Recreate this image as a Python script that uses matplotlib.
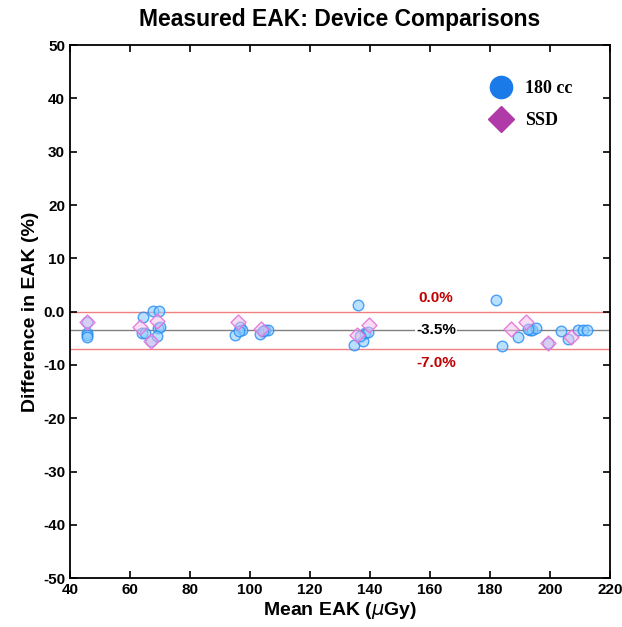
import matplotlib
matplotlib.use("Agg")
import matplotlib.pyplot as plt
from matplotlib.lines import Line2D

plt.rcParams['font.family'] = ['Liberation Sans', 'DejaVu Sans']

# 180 cc chamber readings (mean EAK, % difference)
cc_x = [45.7, 45.7, 45.8, 45.6,
        64.2, 67.8, 69.6, 63.9, 65.0, 69.4, 70.0, 66.9, 68.9,
        96.7, 97.2, 95.0, 96.3, 103.3, 105.0, 106.1, 104.4,
        135.9, 134.8, 137.6, 138.3, 139.4, 136.7,
        182.2, 184.1, 189.4, 193.3, 194.0, 195.3, 192.7, 199.4,
        203.7, 206.1, 209.4, 211.0, 212.3]
cc_y = [-4.0, -4.3, -4.8, -2.0,
        -1.1, 0.2, 0.2, -4.0, -4.0, -3.1, -2.9, -5.5, -4.6,
        -2.8, -3.4, -4.3, -3.7, -4.2, -3.4, -3.4, -3.7,
        1.3, -6.2, -5.6, -4.0, -3.8, -4.6,
        2.1, -6.4, -4.8, -3.5, -3.4, -3.1, -3.2, -5.8,
        -3.6, -5.1, -3.4, -3.4, -3.4]

# SSD readings
ssd_x = [45.6, 63.3, 68.9, 66.9, 95.9, 103.7, 139.7, 135.6, 186.9, 192.0, 199.4, 206.9]
ssd_y = [-2.0, -2.9, -1.8, -5.5, -2.0, -3.3, -2.6, -4.3, -3.3, -2.0, -5.8, -4.8]

mean_diff = -3.5
upper = 0.0
lower = -7.0

yticks = [50, 40, 30, 20, 10, 0, -10, -20, -30, -40, -50]
ytick_labels = ['50', '40', '30', '20', '10', '0.0', '-10', '-20', '-30', '-40', '-50']
xticks = list(range(40, 221, 20))

fig = plt.figure(figsize=(6.22, 6.27), dpi=100)
ax = fig.add_axes([0.1125, 0.078, 0.868, 0.850])

ax.axhline(upper, color='#f08080', lw=1.0, zorder=1)
ax.axhline(lower, color='#f08080', lw=1.0, zorder=1)
ax.axhline(mean_diff, color='#808080', lw=1.0, zorder=1)

ax.scatter(cc_x, cc_y, s=58, marker='o', facecolor=(0.55, 0.80, 1.0, 0.6),
           edgecolor=(0.15, 0.55, 0.95, 0.8), linewidth=1.0, zorder=3)
ax.scatter(ssd_x, ssd_y, s=58, marker='D', facecolor=(0.96, 0.74, 0.92, 0.5),
           edgecolor=(0.90, 0.45, 0.85, 0.9), linewidth=1.0, zorder=4)

ax.text(162, 1.2, '0.0%', color='#c00000', fontsize=11, fontweight='bold',
        ha='center', va='bottom')
ax.text(162, mean_diff, '-3.5%', color='black', fontsize=11, fontweight='bold',
        ha='center', va='center', zorder=2,
        bbox=dict(facecolor='white', edgecolor='none', pad=1.0))
ax.text(162, -8.3, '-7.0%', color='#c00000', fontsize=11, fontweight='bold',
        ha='center', va='top')

ax.set_xlim(40, 220)
ax.set_ylim(-50, 50)
ax.set_xticks(xticks)
ax.set_yticks(yticks)
ax.set_yticklabels(ytick_labels)
ax.tick_params(direction='in', top=True, right=True, length=5, width=1.2,
               labelsize=11)
for lbl in ax.get_xticklabels() + ax.get_yticklabels():
    lbl.set_fontweight('bold')
for sp in ax.spines.values():
    sp.set_linewidth(1.3)

ax.set_xlabel('Mean EAK ($\\mu$Gy)', fontsize=14, fontweight='bold', labelpad=2)
ax.set_ylabel('Difference in EAK (%)', fontsize=14, fontweight='bold', labelpad=3)
ax.set_title('Measured EAK: Device Comparisons', fontsize=16.5, fontweight='bold', pad=14)

handles = [
    Line2D([], [], marker='o', color='none', markerfacecolor='#1a7ae8',
           markeredgecolor='#1a7ae8', markersize=16),
    Line2D([], [], marker='D', color='none', markerfacecolor='#b03aa8',
           markeredgecolor='#b03aa8', markersize=13),
]
ax.legend(handles, ['180 cc', 'SSD'], loc='upper left', bbox_to_anchor=(0.735, 0.965),
          frameon=False, handletextpad=0.3, labelspacing=0.85,
          prop={'family': 'Liberation Serif', 'weight': 'bold', 'size': 13})

fig.savefig('out.png', dpi=100)
